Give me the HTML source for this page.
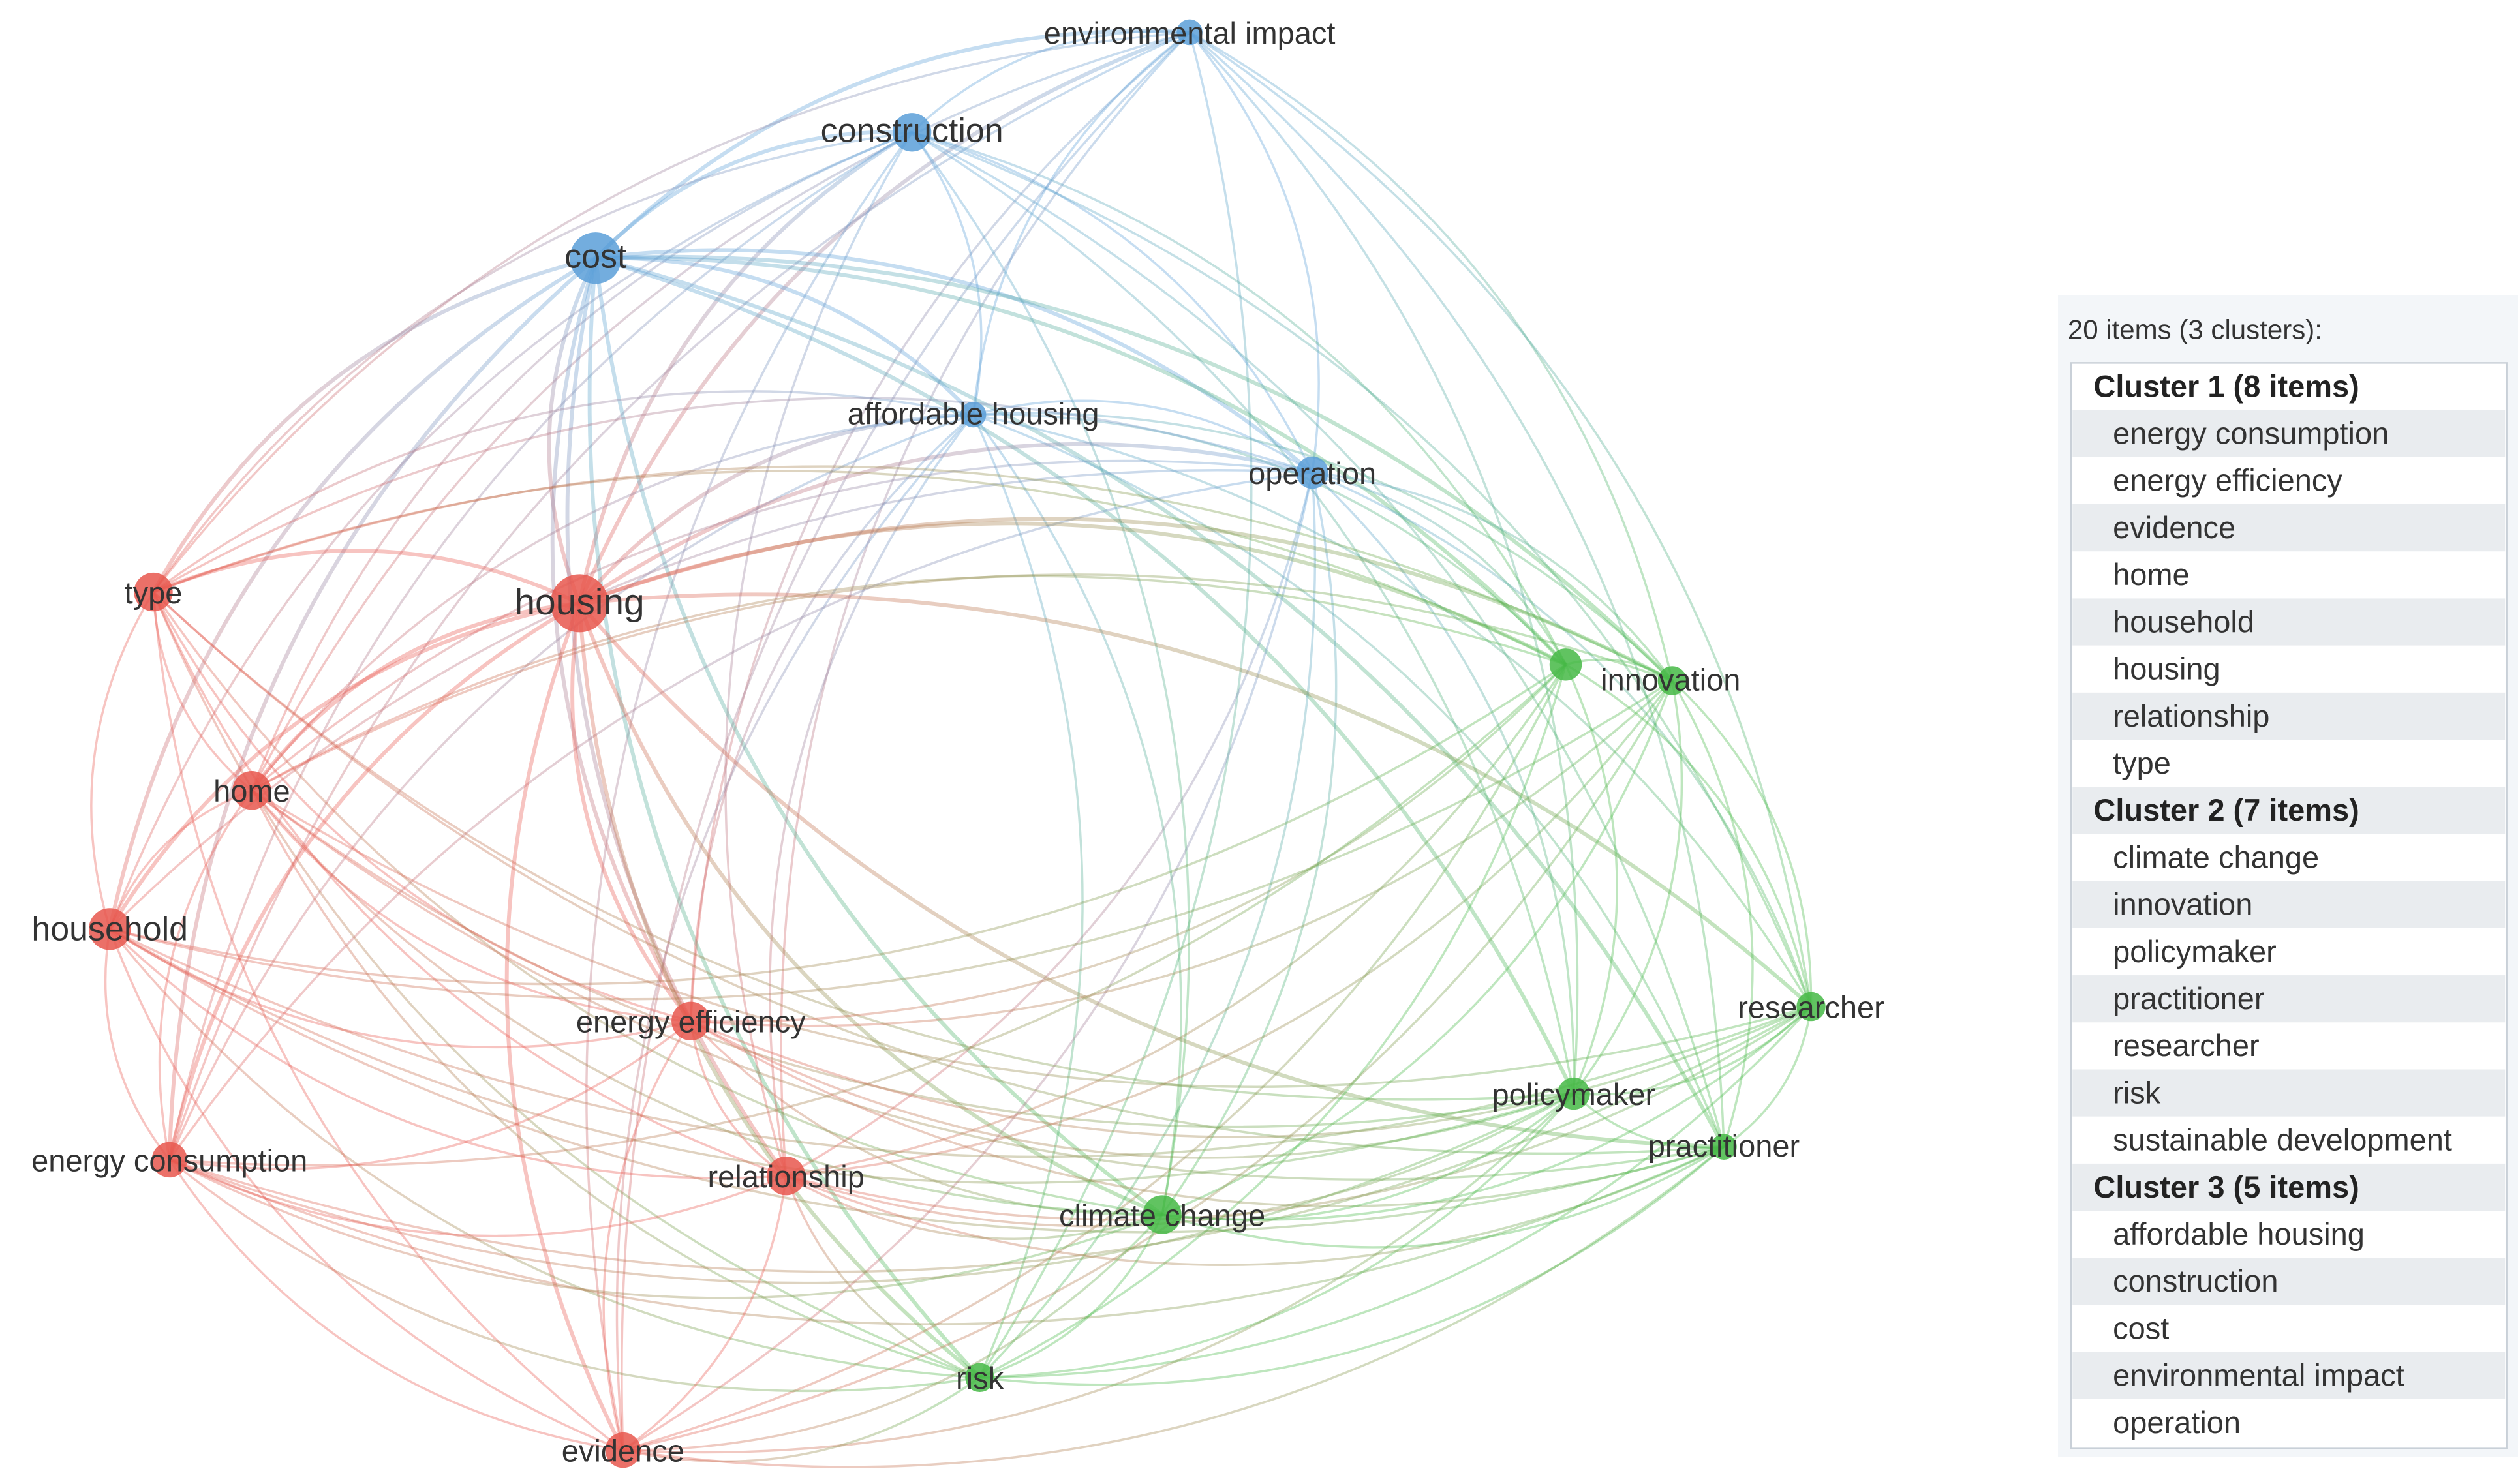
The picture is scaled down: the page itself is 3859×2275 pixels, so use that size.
<!DOCTYPE html>
<html><head><meta charset="utf-8"><style>
html,body{margin:0;padding:0;background:#fff;}
svg{display:block;}
text{font-family:"Liberation Sans",sans-serif;}
</style></head><body>
<svg id="s" width="3859" height="2275" viewBox="0 0 1560 920" preserveAspectRatio="none" xmlns="http://www.w3.org/2000/svg">
<defs id="defs"></defs>
<g id="edges"></g>
<g id="nodes"></g>
<g id="labels" font-size="19" fill="#333">
<text x="737" y="27" text-anchor="middle">environmental impact</text>
<text x="565" y="88" text-anchor="middle" font-size="21">construction</text>
<text x="369" y="166" text-anchor="middle" font-size="21">cost</text>
<text x="603" y="263" text-anchor="middle">affordable housing</text>
<text x="813" y="300" text-anchor="middle">operation</text>
<text x="95" y="374" text-anchor="middle">type</text>
<text x="359" y="381" text-anchor="middle" font-size="23">housing</text>
<text x="1035" y="428" text-anchor="middle">innovation</text>
<text x="156" y="497" text-anchor="middle">home</text>
<text x="68" y="583" text-anchor="middle" font-size="21">household</text>
<text x="428" y="640" text-anchor="middle">energy efficiency</text>
<text x="1122" y="631" text-anchor="middle">researcher</text>
<text x="975" y="685" text-anchor="middle">policymaker</text>
<text x="1068" y="717" text-anchor="middle">practitioner</text>
<text x="105" y="726" text-anchor="middle">energy consumption</text>
<text x="487" y="736" text-anchor="middle">relationship</text>
<text x="720" y="760" text-anchor="middle">climate change</text>
<text x="607" y="861" text-anchor="middle">risk</text>
<text x="386" y="906" text-anchor="middle">evidence</text>
</g>
<g id="legend">
<rect x="1275" y="183" width="285" height="720" fill="#f3f6f9"/>
<text x="1281" y="210" font-size="17" fill="#333">20 items (3 clusters):</text>
<rect x="1283" y="225" width="270" height="673" fill="#fff" stroke="#c9d0d8" stroke-width="1"/>
<g id="rows"></g>
</g>
</svg>
<script>
var N=[
["environmental impact",737,20,8,2],["construction",565,82,12,2],["cost",369,160,16,2],["affordable housing",603,257,8,2],["operation",813,293,10,2],
["type",95,367,12,0],["housing",359,374,18,0],["sust",970,412,10,1],["innovation",1036,422,9,1],["home",156,490,12,0],
["household",68,576,13,0],["energy efficiency",428,633,12,0],["researcher",1122,624,9,1],["policymaker",975,678,10,1],["practitioner",1068,711,8,1],
["energy consumption",105,719,11,0],["relationship",487,729,12,0],["climate change",720,753,12,1],["risk",607,854,9,1],["evidence",386,899,11,0]];
var C=["#e8574e","#45b845","#5a9fd8"];
var eg=document.getElementById("edges"),ng=document.getElementById("nodes"),df=document.getElementById("defs");
var h="",d="",id=0,CX=600,CY=460;
for(var i=0;i<N.length;i++)for(var j=i+1;j<N.length;j++){
 if(((i*7+j*13)%10)<2) continue;
 var a=N[i],b=N[j];
 var dx=b[1]-a[1],dy=b[2]-a[2];
 var mx=(a[1]+b[1])/2,my=(a[2]+b[2])/2;
 var ox=dy*0.22,oy=-dx*0.22;
 if((mx+ox-CX)*(mx+ox-CX)+(my+oy-CY)*(my+oy-CY)<(mx-ox-CX)*(mx-ox-CX)+(my-oy-CY)*(my-oy-CY)){ox=-ox;oy=-oy;}
 var cx=mx+ox,cy=my+oy;
 var w=(a[0]=="housing"||b[0]=="housing"||a[0]=="cost"||b[0]=="cost")?2.4:1.4;
 var stroke;
 if(a[4]==b[4]) stroke=C[a[4]];
 else{id++;d+='<linearGradient id="g'+id+'" gradientUnits="userSpaceOnUse" x1="'+a[1]+'" y1="'+a[2]+'" x2="'+b[1]+'" y2="'+b[2]+'"><stop offset="0" stop-color="'+C[a[4]]+'"/><stop offset="1" stop-color="'+C[b[4]]+'"/></linearGradient>';stroke="url(#g"+id+")";}
 h+='<path d="M'+a[1]+' '+a[2]+' Q'+cx.toFixed(1)+' '+cy.toFixed(1)+' '+b[1]+' '+b[2]+'" fill="none" stroke="'+stroke+'" stroke-opacity="0.35" stroke-width="'+w+'"/>';
}
df.innerHTML=d;eg.innerHTML=h;h="";
for(var k=0;k<N.length;k++){var n=N[k];h+='<circle cx="'+n[1]+'" cy="'+n[2]+'" r="'+n[3]+'" fill="'+C[n[4]]+'" fill-opacity="0.85"/>';}
ng.innerHTML=h;
var R=[["Cluster 1 (8 items)",1],["energy consumption"],["energy efficiency"],["evidence"],["home"],["household"],["housing"],["relationship"],["type"],
["Cluster 2 (7 items)",1],["climate change"],["innovation"],["policymaker"],["practitioner"],["researcher"],["risk"],["sustainable development"],
["Cluster 3 (5 items)",1],["affordable housing"],["construction"],["cost"],["environmental impact"],["operation"]];
h="";
for(var r=0;r<R.length;r++){var y=225+r*29.2;
 if(r%2==1)h+='<rect x="1284" y="'+y.toFixed(1)+'" width="268" height="29.2" fill="#e9ecef"/>';
 if(R[r][1])h+='<text x="1297" y="'+(y+21).toFixed(1)+'" font-size="19" font-weight="bold" fill="#222">'+R[r][0]+'</text>';
 else h+='<text x="1309" y="'+(y+21).toFixed(1)+'" font-size="19" fill="#333">'+R[r][0]+'</text>';}
document.getElementById("rows").innerHTML=h;
</script>
</body></html>
